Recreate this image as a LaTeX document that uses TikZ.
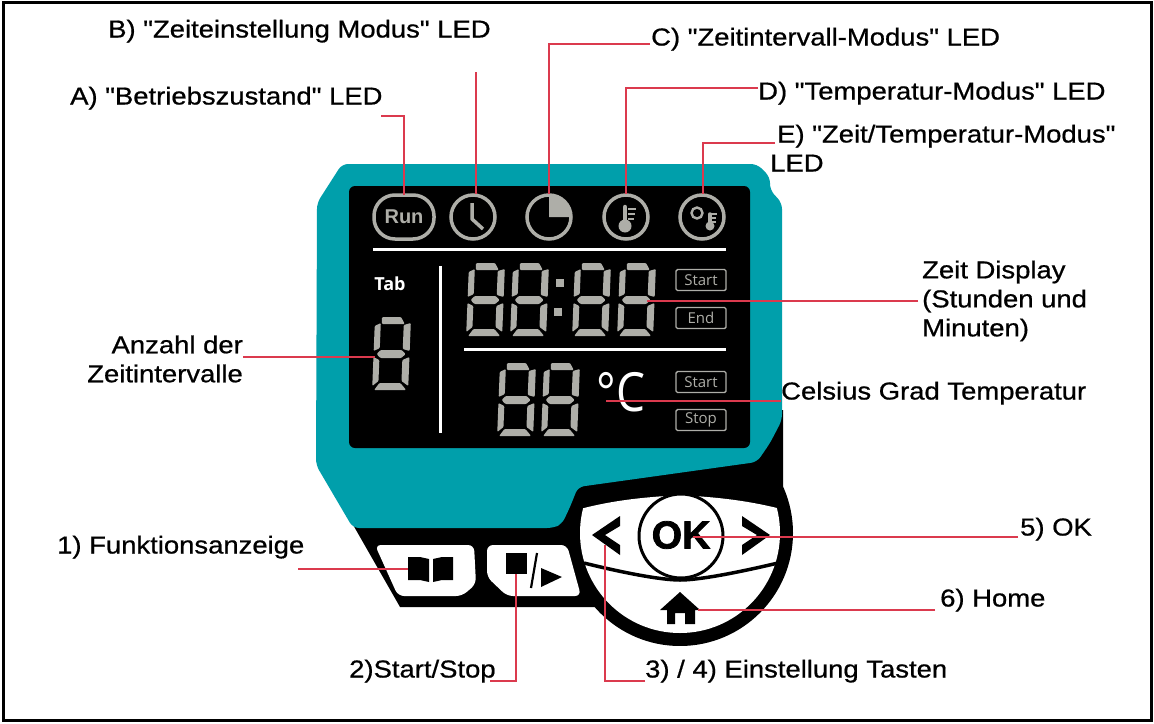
\documentclass[tikz,border=0pt]{standalone}
\usepackage{fontspec}
\usepackage{xcolor}
\setmainfont{Liberation Sans}
\newfontfamily\lblfont{Liberation Sans}[FakeStretch=1.12,FakeBold=0.7,Ligatures=TeXOff]
\newfontfamily\lcdfont{Open Sans}
\newfontfamily\okfont{Liberation Sans Bold}[FakeBold=2]
\definecolor{BodyTeal}{HTML}{009FAB}
\definecolor{LeadRed}{HTML}{DB3A4E}
\definecolor{SegGray}{HTML}{AEAEA8}
\tikzset{
  lead/.style={LeadRed, line width=1.6pt},
  lbl/.style={inner sep=0pt, anchor=west, text height=19pt, text depth=0pt, font=\lblfont\fontsize{24.5}{29}\selectfont},
  ringicon/.style={draw=SegGray, line width=3.5pt},
  tagbox/.style={draw=SegGray, line width=1.4pt, rounded corners=1.5pt, minimum width=50pt, minimum height=21pt, inner sep=0pt, text=SegGray, font=\lcdfont\fontsize{15}{15}\selectfont},
}
% one seven segment digit, top left corner at #1,#2
\newcommand{\segdigit}[2]{%
\begin{scope}[shift={(#1,#2)}, xslant=0.04, SegGray, rounded corners=1pt]
\fill (8,-1)--(27,-1)--(31,6)--(8,6)--cycle;
\fill (1,8)--(7,5)--(7,30)--(1,33)--cycle;
\fill (30,7)--(37,5)--(37,33)--(30,31)--cycle;
\fill (8,32)--(29,32)--(33,36)--(29,40)--(8,40)--(4,36)--cycle;
\fill (1,39)--(7,42)--(7,63)--(1,68)--cycle;
\fill (30,42)--(37,39)--(37,68)--(30,63)--cycle;
\fill (8,65)--(29,65)--(35,72)--(3,72)--cycle;
\end{scope}}
\begin{document}
\begin{tikzpicture}[x=1pt,y=-1pt]
\useasboundingbox (0,0) rectangle (1154,723);
\fill[white] (0,0) rectangle (1154,723);
\draw[line width=3pt] (3,2) rectangle (1151.5,720.5);
%BODY
\fill[black] (316,460)--(400,607)--(600,607)--(680,533)--(783,487)--(783,410)--cycle;
\begin{scope}
\clip (560,400) rectangle (800,645);
\fill[black] (680,533) circle (113);
\end{scope}
\fill[BodyTeal, rounded corners=6pt] (342,164)--(757,164)--(770,177)--(770,190)--(782,203)--(782,420)--(770,443)--(757,462)--(578,487)--(570,507)--(562,524)--(553,528)--(353,528)--(316,465)--(317,203)--cycle;
\fill[black, rounded corners=6pt] (349,186) rectangle (750,448);
%ICONS
\node[ringicon, rounded corners=21pt, minimum width=60pt, minimum height=44pt, inner sep=0pt, text=SegGray, font=\bfseries\fontsize{20}{20}\selectfont] (run) at (404,217) {Run};
\draw[ringicon] (473,217) circle (22);
\draw[SegGray, line width=3.5pt, line join=round] (472,203)--(472,219)--(483,229);
\draw[ringicon] (549,217) circle (22);
\fill[SegGray] (549,217)--(549,194)  .. controls (563,194) and (572,205) .. (572,217)--cycle;
\draw[ringicon] (626,217) circle (22);
\draw[SegGray, line width=4.5pt, line cap=round] (625,207)--(625,222);
\fill[SegGray] (625,226) circle (6.5);
\draw[SegGray, line width=2.4pt] (628,209)--(636,209) (628,214)--(635,214) (628,219)--(634,219);
\draw[ringicon] (702,217) circle (22);
\draw[SegGray, line width=2.4pt] (697,213) circle (5.5);
\draw[SegGray, line width=3.5pt, line cap=round] (710,214)--(710,224);
\fill[SegGray] (710,226) circle (4.5);
\draw[SegGray, line width=1.8pt] (711,214)--(717,214) (711,218)--(716,218) (711,222)--(716,222);
%WHITE RULES
\draw[white, line width=3pt] (373,249)--(726,249);
\draw[white, line width=3pt] (440,266)--(440,433);
\draw[white, line width=3pt] (464,349)--(726,349);
\node[white, font=\lcdfont\bfseries\fontsize{18}{18}\selectfont, inner sep=0pt] (tab) at (390,284) {Tab};
%DIGITS
\segdigit{468}{264}
\segdigit{512}{264}
\segdigit{574}{264}
\segdigit{619}{264}
\fill[SegGray] (556,279) rectangle (564,287);
\fill[SegGray] (554,308) rectangle (562,316);
\segdigit{374}{318}
\segdigit{499}{364}
\segdigit{543}{364}
\node[tagbox] (start1) at (701,280) {Start};
\node[tagbox] (end1) at (701,318) {End};
\node[tagbox] (start2) at (701,382) {Start};
\node[tagbox] (stop2) at (701,420) {Stop};
\node[white, font=\lcdfont\fontsize{54}{54}\selectfont, xscale=0.85, inner sep=0pt] (degc) at (621,392) {°C};
%BUTTONS
\fill[white, rounded corners=6pt] (375,545)--(474,545)--(476,584)--(462,596)--(398,596)--cycle;
\fill[black] (408,557)--(420,557)--(429,559)--(429,582)--(420,580)--(408,580)--cycle;
\fill[black] (453,557)--(442,557)--(433,559)--(433,582)--(442,580)--(453,580)--cycle;
\fill[white, rounded corners=6pt] (487,545)--(567,545)--(581,596)--(507,596)--(487,577)--cycle;
\fill[black] (506,553) rectangle (527,574);
\draw[line width=2.2pt] (537,553)--(531,588);
\fill[black] (541,568)--(562,577)--(541,587)--cycle;
%PAD
\begin{scope}
\clip (680,533) circle (100);
\fill[white] (570,512)--(584,508) .. controls (620,499) and (650,497) .. (680,495) .. controls (710,497) and (740,499) .. (777,508)--(790,512)--(790,640)--(570,640)--cycle;
\end{scope}
\draw[line width=3.5pt] (584,563) .. controls (620,572) and (660,580) .. (680,580) .. controls (700,580) and (740,572) .. (778,563);
\draw[fill=white, line width=3pt] (681,536) circle (42);
\node[font=\okfont\fontsize{39}{39}\selectfont, inner sep=0pt] (ok) at (681,535) {OK};
\fill[black] (592,535)--(620,516)--(620,526)--(605,535)--(620,545)--(620,555)--cycle;
\fill[black] (770,535)--(742,516)--(742,526)--(757,535)--(742,545)--(742,555)--cycle;
\fill[black] (680,592)--(700,610)--(695,610)--(695,624)--(685,624)--(685,613)--(675,613)--(675,624)--(667,624)--(667,610)--(660,610)--cycle;
%LABELS
\node[lbl] (ledb) at (108,28) {B) "Zeiteinstellung Modus" LED};
\node[lbl] (leda) at (70,95) {A) "Betriebszustand" LED};
\node[lbl] (ledc) at (651,36) {C) "Zeitintervall-Modus" LED};
\node[lbl] (ledd) at (758,90) {D) "Temperatur-Modus" LED};
\node[lbl] (lede) at (777,133) {E) "Zeit/Temperatur-Modus"};
\node[lbl] (ledeb) at (770,162) {LED};
\node[lbl, align=left, text height=, text depth=] (zeit) at (922,301) {Zeit Display\\(Stunden und\\Minuten)};
\node[lbl, anchor=east, align=right, text height=, text depth=] (anz) at (243,359) {Anzahl der\\Zeitintervalle};
\node[lbl] (cels) at (781,390) {Celsius Grad Temperatur};
\node[lbl] (funk) at (57,544) {1) Funktionsanzeige};
\node[lbl] (sst) at (349,668) {2)Start/Stop};
\node[lbl] (tast) at (645,668) {3) / 4) Einstellung Tasten};
\node[lbl] (okl) at (1020,526) {5) OK};
\node[lbl] (homel) at (940,597) {6) Home};
%LEADS
\coordinate (a1) at (381,116);
\coordinate (a2) at (404,195);
\coordinate (b1) at (476,72);
\coordinate (b2) at (476,194);
\coordinate (c1) at (650,44);
\coordinate (c2) at (549,194);
\coordinate (d1) at (758,88);
\coordinate (d2) at (626,194);
\coordinate (e1) at (775,143);
\coordinate (e2) at (703,194);
\coordinate (z1) at (918,301);
\coordinate (z2) at (647,301);
\coordinate (g1) at (781,401);
\coordinate (g2) at (606,401);
\coordinate (n1) at (243,357);
\coordinate (n2) at (375,357);
\coordinate (f1) at (298,569);
\coordinate (f2) at (408,569);
\coordinate (s1) at (490,681);
\coordinate (s2) at (516,574);
\coordinate (t1) at (645,681);
\coordinate (t2) at (605,545);
\coordinate (o1) at (1018,537);
\coordinate (o2) at (693,537);
\coordinate (h1) at (935,610);
\coordinate (h2) at (698,610);
\draw[lead] (a1) -| (a2);
\draw[lead] (b1) -- (b2);
\draw[lead] (c1) -| (c2);
\draw[lead] (d1) -| (d2);
\draw[lead] (e1) -| (e2);
\draw[lead] (z1) -- (z2);
\draw[lead] (g1) -- (g2);
\draw[lead] (n1) -- (n2);
\draw[lead] (f1) -- (f2);
\draw[lead] (s1) -| (s2);
\draw[lead] (t1) -| (t2);
\draw[lead] (o1) -- (o2);
\draw[lead] (h1) -- (h2);
\end{tikzpicture}
\end{document}
